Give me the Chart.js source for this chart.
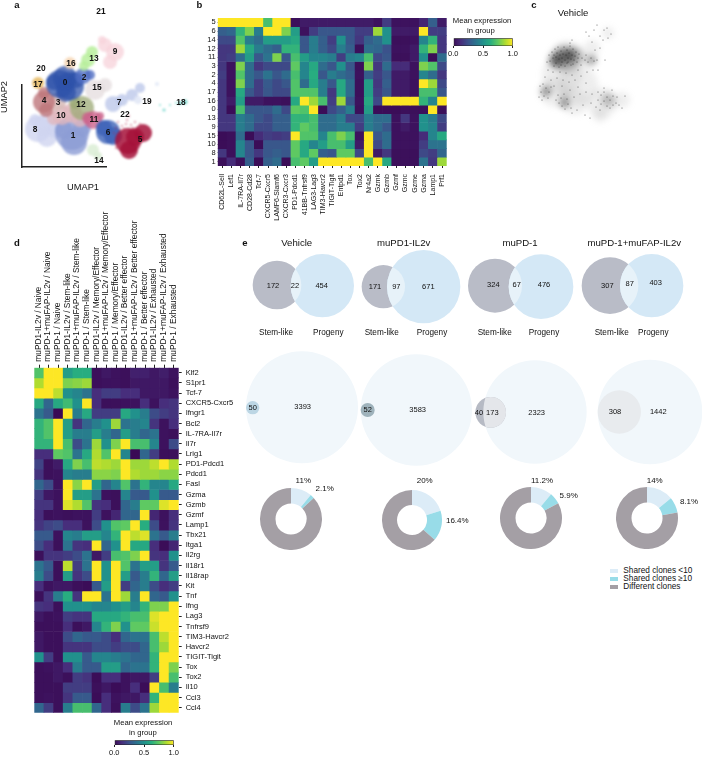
<!DOCTYPE html>
<html>
<head>
<meta charset="utf-8">
<style>
  html, body { margin: 0; padding: 0; background: #fff; }
  body { position: relative; width: 702px; height: 758px; overflow: hidden; font-family: "Liberation Sans", Arial, sans-serif; color: #111; }
  canvas { position: absolute; }
  .t { position: absolute; white-space: nowrap; transform: translate(-50%, -50%); line-height: 1; }
  .swatch { position: absolute; }
</style>
<script src="https://cdn.jsdelivr.net/npm/chart.js@4"></script>
</head>
<body>
<script>
// ---- panel b heatmap ----
const bRows = ['5','6','14','12','11','3','2','4','17','16','0','13','9','15','10','8','1'];
const bGenes = ['CD62L-Sell','Lef1','IL-7RA-Il7r','CD28-Cd28','Tcf-7','CXCR5-Cxcr5','LAMF6-Slamf6','CXCR3-Cxcr3','PD1-Pdcd1','41BB-Tnfrsf9','LAG3-Lag3','TIM3-Havcr2','TIGIT-Tigit','Entpd1','Tox','Tox2','Nr4a2','Gzmk','Gzmb','Gzmf','Gzmc','Gzme','Gzma','Lamp1','Prf1'];
const bValues = [
  [1,1,1,1,1,.7,1,1,.02,.06,.06,.06,.06,.06,.06,.06,.06,.03,.18,.03,.03,.03,.1,.3,.06],
  [.3,.33,.65,.8,.42,1,1,.8,.55,.03,.18,.27,.27,.27,.27,.18,.18,.85,.5,.06,.06,.06,1,.18,.18],
  [.22,.22,.72,.42,.35,.55,.55,.55,.6,.27,.42,.3,.18,.5,.27,.16,.3,.35,.5,.02,.02,.03,.45,.65,.16],
  [.16,.16,.85,.6,.42,.35,.3,.65,.65,.27,.42,.3,.22,.42,.3,.02,.35,.33,.25,.03,.03,.06,.65,.8,.16],
  [.16,.18,.35,.55,.27,.38,.8,.27,.7,.55,.45,.45,.42,.18,.42,.45,.7,.22,.27,.02,.02,.06,.5,.01,.35],
  [.16,.03,.8,.35,.16,.22,.22,.22,.75,.45,.6,.35,.27,.5,.27,.02,.8,.16,.35,.12,.12,.03,.8,.72,.22],
  [.18,.03,.72,.35,.27,.38,.27,.35,.7,.45,.62,.27,.42,.35,.3,.03,.3,.18,.27,.06,.06,.03,.45,.35,.16],
  [.16,.03,.8,.35,.18,.28,.22,.27,.72,.35,.6,.42,.27,.6,.35,.02,.55,.16,.3,.06,.06,.03,1,.85,.22],
  [.16,.03,.6,.27,.18,.27,.22,.22,.72,.72,.72,.42,.16,.6,.35,.02,.55,.18,.27,.06,.06,.03,.7,.7,.27],
  [.16,.06,.55,.06,.06,.03,.03,.02,.6,1,.85,.7,.18,.85,.27,.03,.6,.22,1,1,1,1,.65,.45,1],
  [.16,.01,.7,.27,.27,.27,.35,.22,.75,.72,1,.01,.22,.3,.42,.02,.55,.01,.01,.01,.02,.02,.02,1,.02],
  [.16,.16,.42,.35,.27,.22,.3,.3,.65,.65,.7,.35,.35,.42,.22,.22,.42,.35,.35,.03,.16,.03,.5,.42,.22],
  [.16,.16,.42,.35,.22,.22,.3,.3,.65,.75,.7,.35,.35,.42,.42,.18,.42,.35,.27,.03,.06,.03,.5,.45,.18],
  [.01,.02,.35,.01,.12,.18,.16,.18,1,.72,.72,.45,.7,.8,.7,.03,1,.27,.35,.03,.03,.03,.12,.45,.6],
  [.01,.02,.45,.27,.01,.27,.27,.27,.75,.6,.45,.55,.7,.7,.55,.06,1,.22,.35,.03,.03,.03,.18,.38,.38],
  [.16,.02,.45,.27,.16,.27,.3,.27,.75,.6,.75,.3,.27,.75,.75,.22,1,.06,.16,.02,.02,.02,.22,.18,.33],
  [.02,.12,.02,.3,.01,.3,.35,.01,.7,.75,.55,1,1,1,1,1,.7,1,.6,.02,.02,.02,.38,.16,.85]
];

// ---- panel d heatmap ----
const dGroups = ['muPD1-IL2v / Naive','muPD-1+muFAP-IL2v / Naive','muPD-1 / Naive','muPD1-IL2v / Stem-like','muPD-1+muFAP-IL2v / Stem-like','muPD-1 / Stem-like','muPD1-IL2v / Memory/Effector','muPD-1+muFAP-IL2v / Memory/Effector','muPD-1 / Memory/Effector','muPD1-IL2v / Better effector','muPD-1+muFAP-IL2v / Better effector','muPD-1 / Better effector','muPD1-IL2v / Exhausted','muPD-1+muFAP-IL2v / Exhausted','muPD-1 / Exhausted'];
const dGenes = ['Klf2','S1pr1','Tcf-7','CXCR5-Cxcr5','Ifngr1','Bcl2','IL-7RA-Il7r','Il7r','Lrig1','PD1-Pdcd1','Pdcd1','Fasl','Gzma','Gzmb','Gzmf','Lamp1','Tbx21','Itga1','Il2rg','Il18r1','Il18rap','Kit','Tnf','Ifng','Lag3','Tnfrsf9','TIM3-Havcr2','Havcr2','TIGIT-Tigit','Tox','Tox2','Il10','Ccl3','Ccl4'];
const dValues = [
  [.72,1,1,.55,.62,.62,.02,.05,.03,.02,.08,.08,.05,.07,.03],
  [.88,1,1,.8,.82,.85,.02,.03,.03,.02,.05,.05,.05,.05,.02],
  [1,1,.9,.5,.45,.38,.13,.18,.18,.13,.13,.05,.05,.05,.03],
  [.6,.33,.6,.68,.5,1,.13,.02,.02,.03,.03,.13,.03,.13,.15],
  [.38,.28,0,1,.42,.6,.18,.18,.18,.6,.5,.42,.23,.18,.15],
  [.65,.72,1,.55,.15,.33,.42,.5,.85,.38,.42,.45,.15,.03,.13],
  [.65,.72,1,.55,.42,.42,.55,.42,.33,.55,.42,.33,.38,.03,.02],
  [.65,.65,1,.7,.23,.38,.85,.5,.8,1,.7,.7,.45,.03,.23],
  [.13,.13,.75,.72,.38,.6,.88,.72,1,.45,0,.33,.18,.02,.02],
  [.2,.02,.06,.6,.8,.7,.9,.88,.85,1,.85,.85,.9,1,.88],
  [.15,.02,.03,.45,.42,.42,.82,.82,.8,1,.88,.85,.85,.82,.82],
  [.33,.23,.03,1,.82,1,.55,.33,.45,.72,.38,.65,.45,.45,.6],
  [.18,.05,.03,1,.55,.55,.38,.03,.02,.45,.28,.28,.5,.28,.28],
  [.15,.15,.03,.95,.88,.72,.15,.13,.02,.33,.42,.75,.75,.95,1],
  [.13,.02,.03,.02,.03,.03,.18,.03,.1,.33,.33,1,.1,.03,.13],
  [.15,.2,.23,.13,.13,.03,.23,.5,.72,.75,1,.62,.23,.03,.15],
  [.28,.28,.03,.45,.42,.55,.55,.45,.65,1,.9,.95,.38,.28,.42],
  [.23,.13,.02,.38,.15,.13,1,.33,.5,1,.6,.6,.13,.01,.1],
  [.02,.15,.15,.18,.23,.38,.05,.18,.7,.72,.8,1,.15,.13,.5],
  [.38,.28,.02,.9,.18,.38,1,.5,1,.72,.38,.55,.55,.15,.28],
  [.42,.23,.02,.55,.15,.23,1,.5,1,.55,.28,.42,.65,.33,.55],
  [.13,.03,.05,.05,.02,.01,.28,.55,1,.18,.33,.42,.23,.13,.18],
  [.02,.15,.42,.62,.15,1,1,.38,1,.85,.42,1,.33,.28,.5],
  [.15,.13,.02,.5,.5,.5,.45,.45,.5,.55,.45,.65,.8,.8,1],
  [.05,.02,.03,.18,.15,.15,.6,.6,.6,.65,.7,.7,.95,1,1],
  [.02,.02,.02,.13,.02,.05,.45,.65,.8,.5,.75,.75,.92,1,1],
  [.05,.02,.02,.23,.33,.28,.28,.23,.13,.33,.38,.38,.7,.9,1],
  [.05,.02,.02,.15,.15,.15,.23,.23,.18,.23,.23,.33,.7,.85,1],
  [.5,.18,.02,.5,.5,.28,.45,.45,.42,.38,.33,.33,.65,1,1],
  [.02,.03,.05,.13,.42,.28,.28,.55,.55,.33,.38,.38,.65,1,.8],
  [.02,.02,.05,.02,.18,.15,.01,.13,.13,.03,.05,.05,.18,1,.7],
  [.02,.02,.02,.18,.18,.18,.02,.05,.01,.03,.13,.01,1,.7,.42],
  [.02,.03,.02,.15,.28,.28,.01,.13,.03,.05,.05,.13,.65,1,1],
  [.33,.18,.02,.42,.7,.7,.33,.13,.02,.42,.23,.38,.85,1,1]
];

// ---- panel a UMAP clusters, [x, y, r] ----
const cluster8 = [[38,129,13],[46,125,11],[47,137,10],[35,120,6],[55,130,8]];
const cluster1 = [[72,133,17],[74,142,13],[64,130,9],[82,128,9]];
const cluster10 = [[62,115,10],[72,113,10],[54,118,7],[80,119,8]];
const cluster3 = [[57,102,9]];
const cluster4 = [[44,102,11],[44,93,6],[46,110,7]];
const cluster17 = [[38,83,6]];
const cluster12 = [[82,108,12],[75,103,6]];
const cluster11 = [[93,120,9],[88,118,6],[100,116,4]];
const cluster15 = [[95,90,10],[105,85,7]];
const cluster0 = [[60,84,14],[70,86,14],[65,78,12],[66,92,10],[54,82,8],[76,80,8]];
const cluster2 = [[83,76,8],[90,75,5]];
const cluster16 = [[70,63,6]];
const cluster13 = [[88,60,7],[92,52,6],[84,66,5]];
const cluster9 = [[105,45,7],[115,52,9],[110,62,7],[102,40,4]];
const cluster7 = [[113,104,8],[122,100,6],[132,95,6],[140,88,5]];
const cluster19 = [[138,100,4],[157,84,2]];
const cluster18 = [[170,105,1],[176,103,1],[180,103,2],[164,110,1.5],[160,105,1],[185,102,2.5]];
const cluster6 = [[108,132,12],[113,136,9],[104,128,8]];
const cluster5 = [[128,141,13],[129,150,9],[143,133,9],[135,137,9]];
const cluster22 = [[118,122,.8],[122,126,.8],[127,120,.8],[131,125,.8],[124,129,.8],[120,130,.8],[135,122,.8],[129,116,.8],[116,128,.8],[126,124,.8],[133,128,.8],[119,135,.8],[117,141,.8],[116,148,.8],[140,124,.8],[114,133,.8]];
const cluster14 = [[93,150,6],[98,156,4]];

// ---- panel c density blobs and dots ----
const vehicleHaze = [[562,75,20],[578,85,20],[555,92,15],[575,102,13],[602,103,15],[622,100,8],[608,33,6],[592,48,8],[567,58,17],[600,115,7]];
const vehicleCloud = [[565,58,13],[556,60,8],[575,56,9],[590,60,6],[546,91,6],[564,102,6],[608,100,7]];
const vehicleCore = [[563,57,8],[570,55,6],[555,61,5],[546,92,3],[565,104,3],[593,60,3]];
const vehicleDots = [[552,52],[555,49],[558,47],[561,51],[564,47],[567,50],[570,46],[573,49],[576,52],[579,54],[553,58],[556,63],[559,67],[562,62],[565,66],[568,62],[571,65],[574,60],[577,62],[550,61],[549,55],[582,58],[585,60],[588,62],[591,58],[594,61],[597,60],[586,55],[581,65],[578,70],[560,72],[553,72],[566,73],[572,75],[548,70],[545,77],[551,80],[557,78],[563,80],[569,82],[575,80],[581,76],[587,72],[593,70],[586,83],[578,87],[570,90],[562,86],[554,86],[540,86],[543,84],[546,88],[549,92],[541,92],[544,96],[548,98],[551,87],[539,97],[542,100],[558,95],[561,98],[564,94],[567,99],[559,103],[562,106],[565,109],[568,104],[571,108],[556,100],[574,97],[580,94],[586,92],[592,94],[598,92],[601,95],[604,92],[607,97],[610,100],[613,96],[616,103],[619,105],[622,108],[598,100],[601,104],[604,101],[607,106],[610,108],[613,105],[596,107],[600,110],[617,97],[591,103],[625,96],[583,105],[594,30],[597,25],[600,36],[604,30],[607,28],[611,34],[603,40],[608,38],[586,32],[589,36],[592,42],[570,43],[572,40],[600,48],[595,50],[605,60],[598,70],[604,88],[612,90],[577,110],[585,115],[590,118],[572,113],[557,53],[560,55],[563,54],[566,55],[569,53],[572,55],[575,56],[559,59],[562,58],[565,60],[568,58],[571,59],[554,55],[578,58],[556,57],[567,63],[573,64],[561,65],[554,66],[547,62]];

// ---- panel e ----
const groupNames = ['Vehicle','muPD1-IL2v','muPD-1','muPD-1+muFAP-IL2v'];
const stemOnly = [172,171,324,307];
const sharedClones = [22,97,67,87];
const progenyOnly = [454,671,476,403];
const stemLower = [50,52,40,0];
const sharedLower = [0,0,173,308];
const largeLower = [3393,3583,2323,1442];
const sharedUnder10 = [11,20,11.2,14];
const sharedOver10 = [2.1,16.4,5.9,8.1];
const differentClones = [86.9,63.6,82.9,77.9];
const colorbarTicks = [0, 0.5, 1];

// ---- colours ----
const viridisStops = ['#3a0a55','#472d7b','#3b528b','#2c728e','#21918c','#28ae80','#5ec962','#addc30','#fde725'];
const umapColors = {
  cluster8:'rgba(208,213,240,.8)', cluster1:'rgba(140,156,212,.8)', cluster10:'rgba(224,182,190,.8)', cluster3:'rgba(216,188,184,.85)',
  cluster4:'rgba(190,118,122,.8)', cluster17:'rgba(232,190,108,.9)', cluster12:'rgba(156,170,118,.75)', cluster11:'rgba(204,100,140,.8)',
  cluster15:'rgba(230,222,224,.8)', cluster0:'rgba(45,82,170,.75)', cluster2:'rgba(80,110,195,.8)', cluster16:'rgba(246,216,184,.9)',
  cluster13:'rgba(184,238,156,.85)', cluster9:'rgba(248,212,220,.8)', cluster7:'rgba(184,196,232,.75)', cluster19:'rgba(226,232,246,.9)',
  cluster18:'rgba(120,216,206,.9)', cluster6:'rgba(60,98,184,.8)', cluster5:'rgba(166,18,58,.85)', cluster22:'rgba(176,30,66,.9)', cluster14:'rgba(216,236,210,.8)'
};

function hexToRgb(hex) {
  return [1, 3, 5].map(i => parseInt(hex.substr(i, 2), 16));
}

function viridis(v) {
  const pos = Math.min(Math.max(v, 0), 1) * (viridisStops.length - 1);
  const lo = Math.floor(pos);
  const hi = Math.min(lo + 1, viridisStops.length - 1);
  const a = hexToRgb(viridisStops[lo]);
  const b = hexToRgb(viridisStops[hi]);
  const c = a.map((ch, i) => Math.round(ch + (b[i] - ch) * (pos - lo)));
  return `rgb(${c[0]},${c[1]},${c[2]})`;
}

function addCanvas(left, top, width, height) {
  const canvas = document.createElement('canvas');
  canvas.width = width;
  canvas.height = height;
  canvas.style.left = left + 'px';
  canvas.style.top = top + 'px';
  canvas.style.width = width + 'px';
  canvas.style.height = height + 'px';
  document.body.appendChild(canvas);
  return canvas;
}

function addText(text, x, y, size, opts = {}) {
  const el = document.createElement('div');
  el.className = 't';
  el.textContent = text;
  el.style.left = x + 'px';
  el.style.top = y + 'px';
  el.style.fontSize = size + 'px';
  if (opts.bold) el.style.fontWeight = 'bold';
  if (opts.rotate) el.style.transform = `translate(-50%, -50%) rotate(${opts.rotate}deg)`;
  if (opts.left) el.style.transform = 'translate(0, -50%)';
  document.body.appendChild(el);
}

Chart.defaults.animation = false;
Chart.defaults.responsive = false;
Chart.defaults.devicePixelRatio = 1;
Chart.defaults.font.family = '"Liberation Sans", Arial, sans-serif';
Chart.defaults.color = '#111';
Chart.defaults.layout.autoPadding = false;
Chart.defaults.plugins.legend.display = false;
Chart.defaults.plugins.tooltip.enabled = false;

// Heatmap: one stacked bar dataset per row, every segment one unit tall, coloured by its value
function drawHeatmap(canvas, cfg) {
  const nRows = cfg.rows.length;
  new Chart(canvas, {
    type: 'bar',
    data: {
      labels: cfg.cols,
      datasets: cfg.values.map((row, i) => ({
        label: cfg.rows[i],
        data: row.map(() => 1),
        backgroundColor: row.map(viridis),
        borderWidth: 0,
        barPercentage: 1,
        categoryPercentage: 1
      }))
    },
    options: {
      layout: { padding: cfg.padding },
      scales: {
        x: {
          stacked: true,
          position: cfg.xPosition,
          grid: { drawOnChartArea: false, tickLength: cfg.xTick, color: '#222', offset: false },
          border: { display: false },
          ticks: { autoSkip: false, minRotation: 90, maxRotation: 90, padding: cfg.xPad, labelOffset: cfg.xLabelOffset, font: { size: cfg.xFont } },
          afterFit: s => {
            s.height = cfg.xHeight;
            s.paddingLeft = 0;
            s.paddingRight = 0;
          }
        },
        y: {
          stacked: true,
          reverse: true,
          min: 0,
          max: nRows,
          position: cfg.yPosition,
          grid: { drawOnChartArea: false, tickLength: cfg.yTick, color: '#222' },
          border: { display: false },
          afterBuildTicks: axis => { axis.ticks = cfg.rows.map((r, i) => ({ value: i + 0.5 })); },
          ticks: {
            autoSkip: false,
            padding: cfg.yPad,
            font: { size: cfg.yFont },
            callback: value => cfg.rows[Math.floor(value)]
          },
          afterFit: s => {
            s.width = cfg.yWidth;
            s.paddingTop = 0;
            s.paddingBottom = 0;
          }
        }
      }
    }
  });
}

drawHeatmap(addCanvas(200, 14, 250, 216), {
  rows: bRows, cols: bGenes, values: bValues,
  padding: { right: 3.3, bottom: 0, top: 4, left: 0 },
  xPosition: 'bottom', yPosition: 'left',
  xTick: 2, yTick: 0, xPad: 6, yPad: 2, xFont: 7, yFont: 7.5, xLabelOffset: 0,
  xHeight: 64, yWidth: 17.7
});

drawHeatmap(addCanvas(30, 205, 210, 512), {
  rows: dGenes, cols: dGroups, values: dValues,
  padding: { left: 4.3, bottom: 4.3 },
  xPosition: 'top', yPosition: 'right',
  xTick: 3, yTick: 3, xPad: 3, yPad: 4, xFont: 8.4, yFont: 7.5, xLabelOffset: 9.5,
  xHeight: 162.7, yWidth: 61.3
});

// Colour bar: a single floating bar on a 0-1 axis, filled with the colour map
function drawColorbar(canvas) {
  new Chart(canvas, {
    type: 'bar',
    data: {
      labels: [''],
      datasets: [{
        data: [[0, 1]],
        backgroundColor: ctx => {
          const area = ctx.chart.chartArea;
          if (!area) return '#21918c';
          const g = ctx.chart.ctx.createLinearGradient(area.left, 0, area.right, 0);
          viridisStops.forEach((c, i) => g.addColorStop(i / (viridisStops.length - 1), c));
          return g;
        },
        borderColor: '#222',
        borderWidth: 0.8,
        borderSkipped: false,
        barPercentage: 1,
        categoryPercentage: 1
      }]
    },
    options: {
      indexAxis: 'y',
      layout: { padding: { left: 10.3, right: 10.3, top: 1.3 } },
      scales: {
        y: { display: false },
        x: {
          min: 0, max: 1,
          grid: { drawOnChartArea: false, tickLength: 2, color: '#222' },
          border: { display: false },
          afterBuildTicks: axis => { axis.ticks = colorbarTicks.map(v => ({ value: v })); },
          ticks: { padding: 1, maxRotation: 0, font: { size: 7.5 }, callback: v => Number(v).toFixed(1) },
          afterFit: s => { s.height = 13; }
        }
      }
    }
  });
}
drawColorbar(addCanvas(443, 37, 80, 22));
drawColorbar(addCanvas(104, 739, 80, 19));

function blobSet(points, color) {
  return { data: points.map(p => ({ x: p[0], y: p[1], r: p[2] })), backgroundColor: color, borderWidth: 0, clip: false };
}

// Panel a, scales run in picture units
const umapLayers = { cluster8, cluster1, cluster10, cluster3, cluster4, cluster17, cluster12, cluster11, cluster15, cluster0, cluster2, cluster16, cluster13, cluster9, cluster7, cluster19, cluster18, cluster6, cluster5, cluster22, cluster14 };
const umapCanvas = addCanvas(0, 0, 210, 215);
umapCanvas.style.filter = 'blur(1.1px)';
new Chart(umapCanvas, {
  type: 'bubble',
  data: { datasets: Object.keys(umapLayers).map((name, i) => Object.assign(blobSet(umapLayers[name], umapColors[name]), { order: -i })) },
  options: {
    scales: {
      x: { display: false, min: 0, max: 210 },
      y: { display: false, min: 0, max: 215, reverse: true }
    }
  }
});

// Axis corner of panel a
new Chart(addCanvas(14, 84, 93, 91), {
  type: 'scatter',
  data: { datasets: [{ data: [] }] },
  options: {
    scales: {
      x: { min: 0, max: 1, grid: { display: false }, ticks: { display: false }, border: { color: '#222', width: 1.5 } },
      y: { min: 0, max: 1, grid: { display: false }, ticks: { display: false }, border: { color: '#222', width: 1.5 } }
    }
  }
});

// Panel c: blurred density underneath, single cells on top
function vehicleChart(canvas, datasets) {
  new Chart(canvas, {
    type: 'bubble',
    data: { datasets },
    options: {
      scales: {
        x: { display: false, min: 530, max: 660 },
        y: { display: false, min: 20, max: 140, reverse: true }
      }
    }
  });
}
const vehicleSoft = addCanvas(530, 20, 130, 120);
vehicleSoft.style.filter = 'blur(3px)';
vehicleChart(vehicleSoft, [
  Object.assign(blobSet(vehicleHaze, 'rgba(150,150,150,.16)'), { order: 3 }),
  Object.assign(blobSet(vehicleCloud, 'rgba(70,70,70,.3)'), { order: 2 }),
  Object.assign(blobSet(vehicleCore, 'rgba(40,40,40,.45)'), { order: 1 })
]);
const vehicleSharp = addCanvas(530, 20, 130, 120);
vehicleSharp.style.filter = 'blur(0.4px)';
vehicleChart(vehicleSharp, [blobSet(vehicleDots.map(p => [p[0], p[1], 0.55]), 'rgba(20,20,20,.7)')]);

// Panel e circles: picture units are 3 to the pixel, the canvas starts at (235, 230)
const vennCircles = [
  // x, y, radius, colour; lens is filled afterwards from consecutive pairs
  { x: 126, y: 165, r: 73, c: '#b9bcc7' }, { x: 262, y: 167, r: 95, c: '#d4e8f6' },
  { x: 445, y: 170, r: 65, c: '#b9bcc7' }, { x: 566, y: 170, r: 110, c: '#d4e8f6' },
  { x: 780, y: 167, r: 81, c: '#b9bcc7' }, { x: 918, y: 170, r: 97, c: '#d4e8f6' },
  { x: 1125, y: 167, r: 85, c: '#b9bcc7' }, { x: 1250, y: 167, r: 95, c: '#d4e8f6' },
  { x: 201, y: 532, r: 168, c: '#f1f7fb' }, { x: 53, y: 533, r: 20, c: '#bcd6e4' },
  { x: 544, y: 540, r: 167, c: '#f1f7fb' }, { x: 398, y: 540, r: 21, c: '#9fb3bc' },
  { x: 900, y: 546, r: 155, c: '#f1f7fb' }, { x: 767, y: 547, r: 46, c: '#b6bac4' },
  { x: 1245, y: 546, r: 157, c: '#f1f7fb' }, { x: 1153, y: 546, r: 65, c: '#e8ebee' }
];
const lensPairs = [[0, 1, '#e7f2f9'], [2, 3, '#e7f2f9'], [4, 5, '#e7f2f9'], [6, 7, '#e7f2f9'], [12, 13, '#e4e6ea']];

const lensPlugin = {
  id: 'lens',
  afterDatasetsDraw(chart) {
    const { ctx, scales } = chart;
    lensPairs.forEach(([a, b, color]) => {
      const ca = vennCircles[a];
      const cb = vennCircles[b];
      ctx.save();
      ctx.beginPath();
      ctx.arc(scales.x.getPixelForValue(ca.x), scales.y.getPixelForValue(ca.y), ca.r / 3, 0, Math.PI * 2);
      ctx.clip();
      ctx.beginPath();
      ctx.arc(scales.x.getPixelForValue(cb.x), scales.y.getPixelForValue(cb.y), cb.r / 3, 0, Math.PI * 2);
      ctx.fillStyle = color;
      ctx.fill();
      ctx.restore();
    });
  }
};

new Chart(addCanvas(235, 230, 469, 240), {
  type: 'bubble',
  plugins: [lensPlugin],
  data: {
    datasets: [{
      data: vennCircles.map(c => ({ x: c.x, y: c.y, r: c.r / 3 })),
      backgroundColor: vennCircles.map(c => c.c),
      borderWidth: 0,
      clip: false
    }]
  },
  options: {
    scales: {
      x: { display: false, min: 0, max: 1407 },
      y: { display: false, min: 0, max: 720, reverse: true }
    }
  }
});

// Panel e doughnuts
const donutCenters = [[290.7, 518.7, 31], [412, 519.7, 30], [531, 518.3, 31], [647.3, 518, 31]];
const donutColors = ['#dcecf7', '#98dce8', '#a49fa5'];
groupNames.forEach((name, i) => {
  const [cx, cy, r] = donutCenters[i];
  new Chart(addCanvas(cx - r, cy - r, r * 2, r * 2), {
    type: 'doughnut',
    data: {
      labels: ['Shared clones <10', 'Shared clones ≥10', 'Different clones'],
      datasets: [{ data: [sharedUnder10[i], sharedOver10[i], differentClones[i]], backgroundColor: donutColors, borderWidth: 0 }]
    },
    options: { cutout: '50%' }
  });
});

// ---- text ----
addText('a', 17, 5, 9.5, { bold: true });
addText('b', 199.5, 5, 9.5, { bold: true });
addText('c', 534, 5, 9.5, { bold: true });
addText('d', 17, 243, 9.5, { bold: true });
addText('e', 245, 243, 9.5, { bold: true });

const umapLabels = [['21',101,11],['9',115,51],['13',94,58],['16',71,63],['20',41,68],['0',65,82],['2',84,77],['15',97,87],['17',38,84],['4',44,100],['3',58,102],['12',81,104],['7',119,102],['19',147,101],['18',181,102],['10',61,115],['22',125,114],['11',94,119],['8',35,129],['1',73,135],['6',108,132],['5',140,139],['14',99,160]];
umapLabels.forEach(l => addText(l[0], l[1], l[2], 8.4, { bold: true }));
addText('UMAP1', 83, 188, 9.3);
addText('UMAP2', 5, 97, 9.3, { rotate: -90 });

addText('Vehicle', 573, 13, 9.5);
addText('Mean expression', 482, 21, 7.7);
addText('in group', 481, 31, 7.7);
addText('Mean expression', 143, 723, 7.7);
addText('in group', 143, 733, 7.7);

const titleX = [296.7, 403.7, 520, 634.3];
const stemLabelX = [276, 381.7, 494.7, 611.7];
const progenyLabelX = [328.3, 432, 544, 653.3];
groupNames.forEach((name, i) => {
  addText(name, titleX[i], 243, 9.6);
  addText('Stem-like', stemLabelX[i], 333.3, 8.2);
  addText('Progeny', progenyLabelX[i], 333.3, 8.2);
});

const upperPos = [[[273,285.7],[295,286.3],[321.7,285.7]], [[375,287],[396.3,287],[428.3,287]], [[493.3,285],[516.7,285],[544,285]], [[607.3,285.7],[629.7,284],[655.7,283.3]]];
upperPos.forEach((p, i) => {
  addText(String(stemOnly[i]), p[0][0], p[0][1], 7.5);
  addText(String(sharedClones[i]), p[1][0], p[1][1], 7.5);
  addText(String(progenyOnly[i]), p[2][0], p[2][1], 7.5);
});

const lowerLabels = [
  [stemLower[0], 252.7, 407.7], [largeLower[0], 302.7, 407], [stemLower[1], 367.7, 410], [largeLower[1], 417.7, 409.7],
  [stemLower[2], 479, 413.3], [sharedLower[2], 492.3, 413], [largeLower[2], 536.7, 413], [sharedLower[3], 615, 412], [largeLower[3], 658.3, 412]
];
lowerLabels.forEach(l => addText(String(l[0]), l[1], l[2], 7.5));

const donutLabels = [
  ['11%', 303.3, 481], ['2.1%', 324.7, 489.3], ['20%', 424.7, 481], ['16.4%', 457.3, 520.7],
  ['11.2%', 542, 481], ['5.9%', 568.7, 496], ['14%', 654.7, 481], ['8.1%', 689, 502]
];
donutLabels.forEach(l => addText(l[0], l[1], l[2], 8));

const legendLabels = ['Shared clones <10', 'Shared clones ≥10', 'Different clones'];
const legendY = [570.7, 578.7, 586.7];
legendLabels.forEach((label, i) => {
  addText(label, 623.3, legendY[i], 8.25, { left: true });
  const swatch = document.createElement('div');
  swatch.className = 'swatch';
  swatch.style.cssText = `left:610px;top:${legendY[i] - 2}px;width:8px;height:4px;background:${donutColors[i]}`;
  document.body.appendChild(swatch);
});
</script>
</body>
</html>
